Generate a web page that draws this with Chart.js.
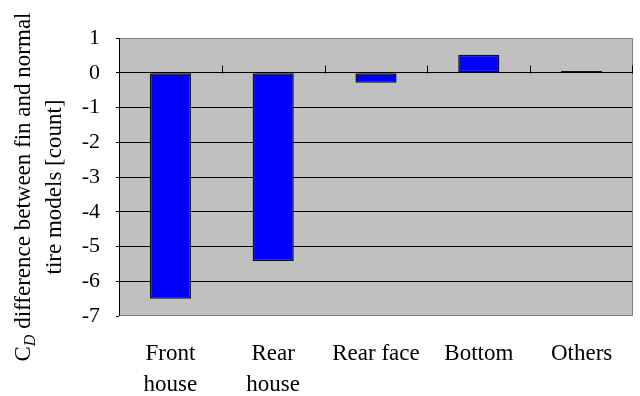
<!DOCTYPE html>
<html>
<head>
<meta charset="utf-8">
<script src="https://cdn.jsdelivr.net/npm/chart.js@4.4.1/dist/chart.umd.min.js"></script>
<style>
  html, body { margin: 0; padding: 0; background: #fff; }
  #wrap { width: 640px; height: 396px; }
</style>
</head>
<body>
<div id="wrap"><canvas id="c" width="640" height="396"></canvas></div>
<script>
// Component categories and the drag-count difference for each
const categories = [["Front", "house"], ["Rear", "house"], "Rear face", "Bottom", "Others"];
const cdDifference = [-6.5, -5.42, -0.29, 0.52, 0.05];
const yMin = -7;
const yMax = 1;

const FONT = '"Liberation Serif", "Times New Roman", serif';

// Grey plot background plus the frame around it
const plotFrame = {
  id: 'plotFrame',
  beforeDraw(chart) {
    const { ctx, chartArea: a } = chart;
    ctx.save();
    ctx.fillStyle = '#c0c0c0';
    ctx.fillRect(a.left, a.top, a.right - a.left, a.bottom - a.top);
    ctx.restore();
  },
  afterDatasetsDraw(chart) {
    const { ctx, chartArea: a, scales } = chart;
    const x = scales.x, y = scales.y;
    ctx.save();
    // grey frame on top, right, bottom
    ctx.strokeStyle = '#808080';
    ctx.lineWidth = 1;
    ctx.beginPath();
    ctx.moveTo(a.left, a.top + 0.5);
    ctx.lineTo(a.right - 0.5, a.top + 0.5);
    ctx.lineTo(a.right - 0.5, a.bottom - 0.5);
    ctx.lineTo(a.left, a.bottom - 0.5);
    ctx.stroke();
    // category tick marks rising from the zero line
    const zy = Math.round(y.getPixelForValue(0)) + 0.5;
    ctx.strokeStyle = '#000';
    ctx.beginPath();
    const n = categories.length;
    for (let i = 0; i < n; i++) {
      let bx;
      if (i < n - 1) {
        bx = (x.getPixelForValue(i) + x.getPixelForValue(i + 1)) / 2;
      } else {
        bx = a.right - 1;
      }
      bx = Math.round(bx) + 0.5;
      ctx.moveTo(bx, zy);
      ctx.lineTo(bx, zy - 8);
    }
    ctx.stroke();
    // left axis line
    ctx.beginPath();
    ctx.moveTo(a.left + 0.5, a.top);
    ctx.lineTo(a.left + 0.5, a.bottom);
    ctx.stroke();
    ctx.restore();
  }
};

// Rotated two-line y-axis title with a subscripted D
const yTitle = {
  id: 'yTitle',
  afterDraw(chart) {
    const { ctx } = chart;
    const cy = 187;
    const size = 23;
    ctx.save();
    ctx.fillStyle = '#000';
    ctx.textBaseline = 'alphabetic';

    const mainFont = size + 'px ' + FONT;
    const subFont = 'italic ' + Math.round(size * 0.68) + 'px ' + FONT;
    const partC = 'C';
    const partD = 'D';
    const rest = ' difference between fin and normal';
    ctx.font = mainFont;
    const wC = ctx.measureText(partC).width;
    const wRest = ctx.measureText(rest).width;
    ctx.font = subFont;
    const wD = ctx.measureText(partD).width;
    const total = wC + wD + wRest;

    // first line
    ctx.save();
    ctx.translate(30, cy);
    ctx.rotate(-Math.PI / 2);
    let sx = -total / 2;
    ctx.font = mainFont;
    ctx.textAlign = 'left';
    ctx.fillText(partC, sx, 0);
    sx += wC;
    ctx.font = subFont;
    ctx.fillText(partD, sx, 5);
    sx += wD;
    ctx.font = mainFont;
    ctx.fillText(rest, sx, 0);
    ctx.restore();

    // second line
    ctx.save();
    ctx.translate(61, cy);
    ctx.rotate(-Math.PI / 2);
    ctx.font = mainFont;
    ctx.textAlign = 'center';
    ctx.fillText('tire models [count]', 0, 0);
    ctx.restore();

    ctx.restore();
  }
};

new Chart(document.getElementById('c'), {
  type: 'bar',
  data: {
    labels: categories,
    datasets: [{
      data: cdDifference,
      backgroundColor: '#0000ff',
      borderColor: '#111',
      borderWidth: 1.5,
      borderSkipped: false,
      categoryPercentage: 1,
      barPercentage: 0.4
    }]
  },
  options: {
    responsive: false,
    animation: false,
    devicePixelRatio: 1,
    layout: { padding: { left: 0, right: 7, top: 38, bottom: 0 } },
    plugins: {
      legend: { display: false },
      tooltip: { enabled: false }
    },
    scales: {
      x: {
        grid: { display: false },
        border: { display: false },
        ticks: {
          color: '#000',
          font: { family: FONT, size: 23, lineHeight: 1.35 },
          maxRotation: 0,
          autoSkip: false,
          padding: 14
        },
        afterFit(scale) { scale.height = 80; }
      },
      y: {
        min: yMin,
        max: yMax,
        grid: {
          color(ctx) {
            const v = ctx.tick && ctx.tick.value;
            return (v === yMax || v === yMin) ? 'rgba(0,0,0,0)' : '#000';
          },
          tickColor: '#000',
          tickLength: 3,
          drawTicks: true
        },
        border: { display: false },
        ticks: {
          stepSize: 1,
          color: '#000',
          font: { family: FONT, size: 22 },
          padding: 16
        },
        afterFit(scale) { scale.width = 119; }
      }
    }
  },
  plugins: [plotFrame, yTitle]
});
</script>
</body>
</html>
